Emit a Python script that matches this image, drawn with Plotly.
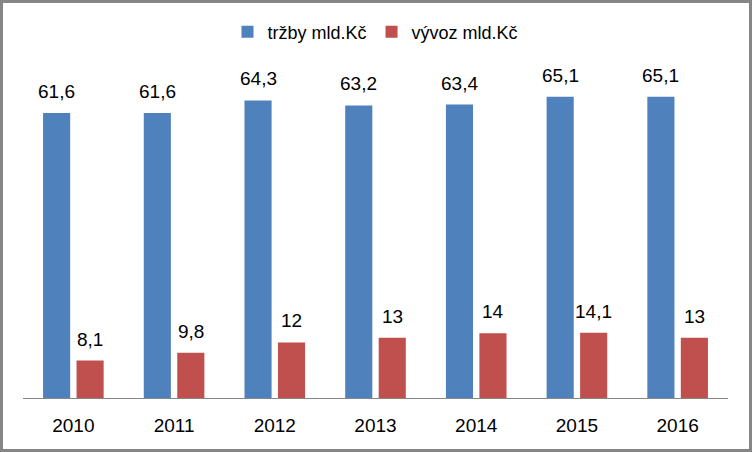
import plotly.graph_objects as go

years = ["2010", "2011", "2012", "2013", "2014", "2015", "2016"]
trzby = [61.6, 61.6, 64.3, 63.2, 63.4, 65.1, 65.1]
vyvoz = [8.1, 9.8, 12, 13, 14, 14.1, 13]
series_names = ["tržby mld.Kč", "vývoz mld.Kč"]
series_colors = ["#4F81BD", "#C0504D"]

FONT = "Liberation Sans"
W, H = 752, 452
ML, MR, MT, MB = 23, 24, 74, 54


def fmt(v):
    return str(v).replace(".", ",")


fig = go.Figure()
for name, vals, col in zip(series_names, [trzby, vyvoz], series_colors):
    fig.add_trace(go.Bar(x=years, y=vals, name=name, marker_color=col,
                         marker_line_width=0, hoverinfo="skip"))

# data labels above the bars (annotations so the gap can be tuned)
plot_w = W - ML - MR
bargap = 0.335
slot = plot_w / len(years) * (1 - bargap) / 2
for i, vals in enumerate([trzby, vyvoz]):
    dx = (-0.5 if i == 0 else 0.5) * slot
    for k, v in enumerate(vals):
        # category axis -> annotation x is the category index
        fig.add_annotation(x=k, y=v, text=fmt(v), showarrow=False,
                           yanchor="bottom", yshift=9, xshift=dx,
                           font=dict(family=FONT, size=19, color="black"))

plot_h = H - MT - MB
# outer frame of the chart area
fig.add_shape(type="rect", xref="paper", yref="paper",
              x0=(1.5 - ML) / plot_w, x1=(W - 1.5 - ML) / plot_w,
              y0=-(MB - 1.5) / plot_h, y1=(plot_h + MT - 1.5) / plot_h,
              line=dict(color="#868686", width=3))

fig.update_layout(
    width=W, height=H,
    margin=dict(l=ML, r=MR, t=MT, b=MB),
    paper_bgcolor="white", plot_bgcolor="white",
    barmode="group", bargap=bargap, bargroupgap=0.19,
    font=dict(family=FONT, size=19, color="black"),
    legend=dict(orientation="h", x=0.5, xanchor="center",
                y=(plot_h + MT - 32) / plot_h, yanchor="middle",
                font=dict(size=18), bgcolor="rgba(0,0,0,0)"),
    showlegend=True,
)
fig.update_xaxes(type="category", range=[-0.5, len(years) - 0.5],
                 showline=True, linecolor="#868686", linewidth=1,
                 ticks="", showgrid=False, ticklabelstandoff=10,
                 tickfont=dict(size=19))
fig.update_yaxes(range=[0, 70], visible=False, showgrid=False, zeroline=False)

# drop the browser's default body margin so the figure fills the window
fig.write_html("out.html", config={"displayModeBar": False},
               post_script="document.body.style.margin='0';")
